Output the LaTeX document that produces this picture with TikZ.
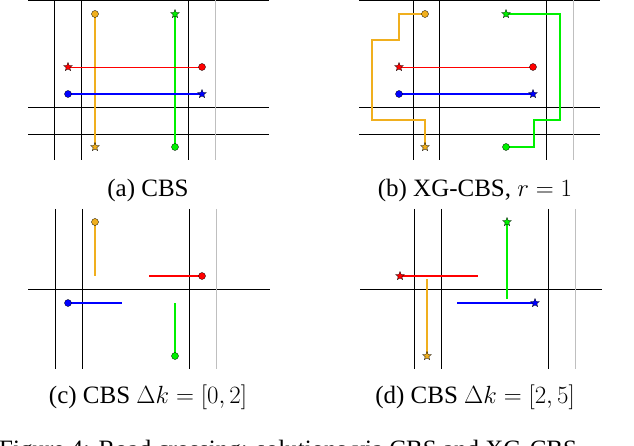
\documentclass[tikz,border=0pt]{standalone}
\usepackage{fontspec}
\setmainfont{Liberation Serif}
\usetikzlibrary{shapes.geometric}
\definecolor{myor}{RGB}{240,175,30}
\definecolor{mygr}{RGB}{0,240,0}
\begin{document}
\begin{tikzpicture}[x=1pt,y=-1pt,
 grid/.style={line width=0.8pt,black},
 gridg/.style={line width=0.8pt,black!25},
 dot/.style={circle,draw=black,line width=0.3pt,fill=#1,inner sep=0pt,minimum size=7pt},
 st/.style={star,star points=5,star point ratio=2.3,draw=black,line width=0.3pt,fill=#1,inner sep=0pt,minimum size=9pt},
 captxt/.style={font=\fontsize{25}{28}\selectfont,inner sep=0pt},
 pr/.style={red,line width=0.8pt},
 pb/.style={blue,line width=2pt},
 po/.style={myor,line width=1.5pt},
 pg/.style={mygr,line width=1.5pt}]
\clip (0,0) rectangle (634,446);
\useasboundingbox (0,0) rectangle (634,446);
% ---------- (a)
\draw[grid] (28,0.5)--(269,0.5) (28,107)--(269,107) (28,134)--(269,134);
\draw[grid] (54,0)--(54,160) (81,0)--(81,160) (188,0)--(188,160);
\draw[gridg] (215,0)--(215,160);
\draw[po] (95,14)--(95,147);
\draw[pg] (175,14)--(175,147);
\draw[pr] (68,67)--(202,67);
\draw[pb] (68,94)--(202,94);
\node[dot=myor] (ao1) at (95,14) {}; \node[st=myor] (ao2) at (95,147) {};
\node[st=mygr] (ag1) at (175,14) {}; \node[dot=mygr] (ag2) at (175,147) {};
\node[st=red] (ar1) at (68,67) {}; \node[dot=red] (ar2) at (202,67) {};
\node[dot=blue] (ab1) at (68,94) {}; \node[st=blue] (ab2) at (202,94) {};
\node[captxt] (ca) at (148,190) {(a) CBS};
% ---------- (b)
\draw[grid] (359,0.5)--(600,0.5) (359,107)--(600,107) (359,134)--(600,134);
\draw[grid] (413,0)--(413,160) (439,0)--(439,160) (546,0)--(546,160);
\draw[gridg] (573,0)--(573,160);
\draw[po] (425,14)--(399,14)--(399,40)--(372,40)--(372,120)--(425,120)--(425,147);
\draw[pg] (506,14)--(560,14)--(560,120)--(534,120)--(534,147)--(506,147);
\draw[pr] (399,67)--(533,67);
\draw[pb] (399,94)--(533,94);
\node[dot=myor] (bo1) at (425,14) {}; \node[st=myor] (bo2) at (425,147) {};
\node[st=mygr] (bg1) at (506,14) {}; \node[dot=mygr] (bg2) at (506,147) {};
\node[st=red] (br1) at (399,67) {}; \node[dot=red] (br2) at (533,67) {};
\node[dot=blue] (bb1) at (399,94) {}; \node[st=blue] (bb2) at (533,94) {};
\node[captxt] (cb) at (475,190) {(b) XG-CBS, $r=1$};
% ---------- (c)
\draw[grid] (28,289)--(270,289);
\draw[grid] (55,209)--(55,369) (82,209)--(82,369) (189,209)--(189,369);
\draw[gridg] (216,209)--(216,369);
\draw[po] (95,222)--(95,276);
\draw[pr,line width=1.5pt] (149,276)--(202,276);
\draw[pb] (68,303)--(122,303);
\draw[pg] (175,303)--(175,356);
\node[dot=myor] (co) at (95,222) {};
\node[dot=red] (cr) at (202,276) {};
\node[dot=blue] (cbl) at (68,303) {};
\node[dot=mygr] (cg) at (175,356) {};
\node[captxt] (cc) at (148,397) {(c) CBS $\Delta k=[0,2]$};
% ---------- (d)
\draw[grid] (360,289)--(602,289);
\draw[grid] (414,209)--(414,369) (441,209)--(441,369) (548,209)--(548,369);
\draw[gridg] (575,209)--(575,369);
\draw[pr,line width=1.5pt] (400,276)--(478,276);
\draw[po] (427,279)--(427,356);
\draw[pg,line width=1.2pt] (507,222)--(507,299);
\draw[pb] (457,303)--(535,303);
\node[st=red] (dr) at (400,276) {};
\node[st=myor] (do) at (427,356) {};
\node[st=mygr] (dg) at (507,222) {};
\node[st=blue] (db) at (535,303) {};
\node[captxt] (cd) at (475,397) {(d) CBS $\Delta k=[2,5]$};
% ---------- figure caption (cut)
\node[captxt,anchor=base west] (fig) at (-1,457) {Figure 4: Road crossing: solutions via CBS and XG-CBS};
\end{tikzpicture}
\end{document}
